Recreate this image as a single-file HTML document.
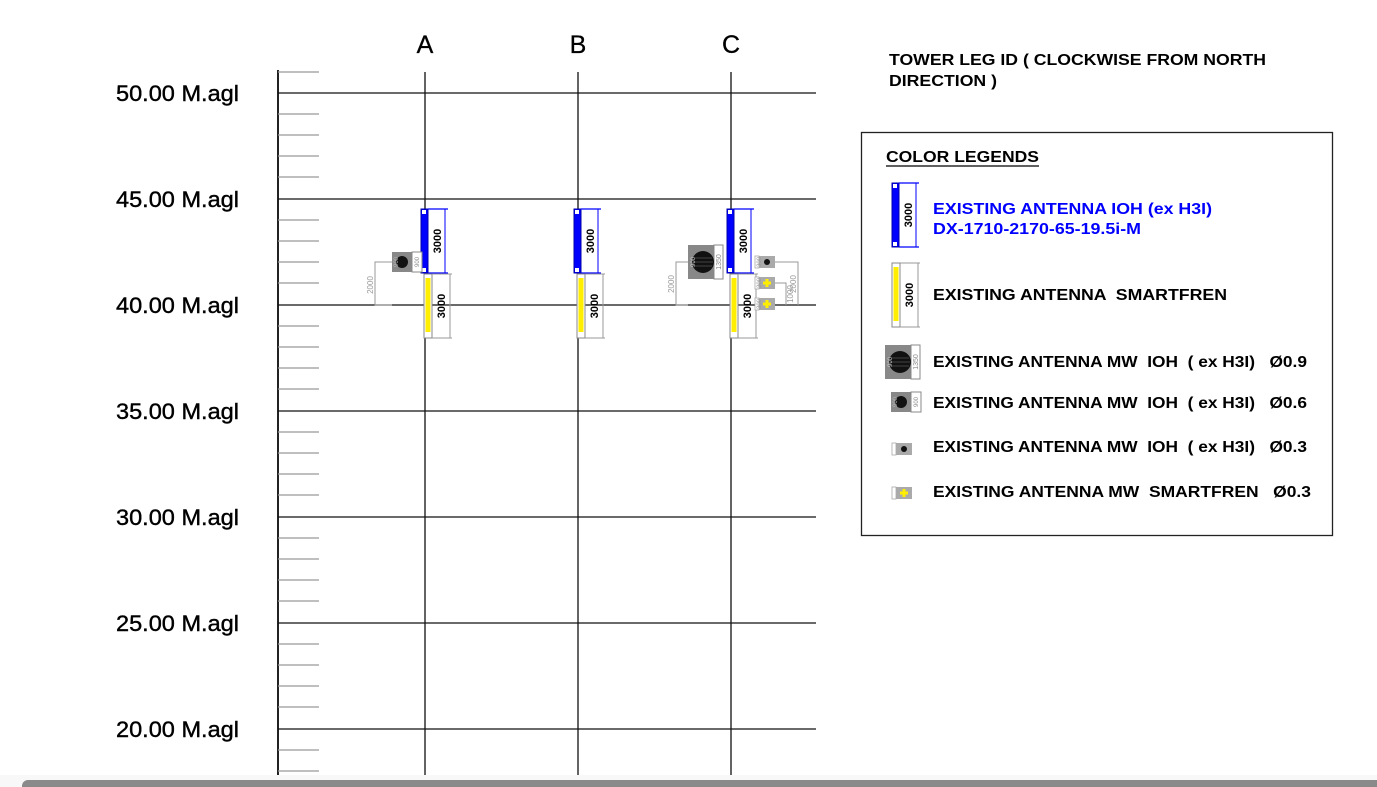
<!DOCTYPE html>
<html><head><meta charset="utf-8"><style>
html,body{margin:0;padding:0;background:#fff;width:1377px;height:787px;overflow:hidden}
svg{display:block}
text{font-family:"Liberation Sans",Arial,sans-serif;white-space:pre}
</style></head><body>
<svg width="1377" height="787" viewBox="0 0 1377 787" xmlns="http://www.w3.org/2000/svg" xml:space="preserve">
<defs>
 <g id="blue">
  <rect x="-4" y="209" width="7" height="64" fill="#0000ff" stroke="#0000aa" stroke-width="1"/>
  <rect x="-3" y="210" width="4" height="4" fill="#fff"/>
  <rect x="-3" y="268" width="4" height="4" fill="#fff"/>
  <line x1="3" y1="209" x2="23" y2="209" stroke="#0000ff" stroke-width="1.3"/>
  <line x1="3" y1="273" x2="23" y2="273" stroke="#0000ff" stroke-width="1.3"/>
  <line x1="20" y1="209" x2="20" y2="273" stroke="#0000ff" stroke-width="1"/>
  <text transform="translate(16,241) rotate(-90)" font-size="11" font-weight="bold" text-anchor="middle">3000</text>
 </g>
 <g id="yel">
  <rect x="-1" y="274" width="8" height="64" fill="#fff" stroke="#888" stroke-width="1"/>
  <rect x="0.5" y="278" width="5" height="54" fill="#ffee00"/>
  <line x1="7" y1="274" x2="27" y2="274" stroke="#999" stroke-width="1"/>
  <line x1="7" y1="338" x2="27" y2="338" stroke="#999" stroke-width="1"/>
  <line x1="25" y1="274" x2="25" y2="338" stroke="#999" stroke-width="1"/>
  <text transform="translate(20,306) rotate(-90)" font-size="11" font-weight="bold" text-anchor="middle">3000</text>
 </g>
 <g id="mw6">
  <rect x="-9" y="-10" width="20" height="20" fill="#888"/>
  <rect x="11" y="-10" width="10" height="20" fill="#fff" stroke="#888"/>
  <circle cx="1" cy="0" r="6" fill="#111"/>
  <text transform="translate(-3,0) rotate(-90)" font-size="6" fill="#bbb" text-anchor="middle">900</text>
  <text transform="translate(18,0) rotate(-90)" font-size="6" fill="#888" text-anchor="middle">900</text>
 </g>
 <g id="mw9">
  <rect x="-17" y="-17" width="26" height="34" fill="#888"/>
  <rect x="9" y="-17" width="9" height="34" fill="#fff" stroke="#888"/>
  <circle cx="-2" cy="0" r="11" fill="#111"/>
  <path d="M-11,-4 h18 M-12,0 h20 M-11,4 h18" stroke="#555" stroke-width="0.8"/>
  <text transform="translate(-10,0) rotate(-90)" font-size="6" fill="#ccc" text-anchor="middle">900</text>
  <text transform="translate(16,0) rotate(-90)" font-size="7" fill="#888" text-anchor="middle">1350</text>
 </g>
 <g id="mw3">
  <rect x="-7" y="-6" width="16" height="12" fill="#aaa"/>
  <rect x="-11" y="-6" width="4" height="12" fill="#fff" stroke="#aaa" stroke-width="0.8"/>
  <circle cx="1" cy="0" r="3" fill="#111"/>
 </g>
 <g id="mw3y">
  <rect x="-7" y="-6" width="16" height="12" fill="#aaa"/>
  <rect x="-11" y="-6" width="4" height="12" fill="#fff" stroke="#aaa" stroke-width="0.8"/>
  <path d="M1,-4 v8 M-3,0 h8" stroke="#ffee00" stroke-width="3"/>
 </g>
</defs>

<line x1="278" y1="70" x2="278" y2="775" stroke="#222" stroke-width="2"/>
<g stroke="#999" stroke-width="1.3">
 <line x1="278" y1="72" x2="319" y2="72"/>
 <line x1="278" y1="114" x2="319" y2="114"/><line x1="278" y1="135" x2="319" y2="135"/><line x1="278" y1="156" x2="319" y2="156"/><line x1="278" y1="177" x2="319" y2="177"/>
 <line x1="278" y1="220" x2="319" y2="220"/><line x1="278" y1="241" x2="319" y2="241"/><line x1="278" y1="262" x2="319" y2="262"/><line x1="278" y1="283" x2="319" y2="283"/>
 <line x1="278" y1="326" x2="319" y2="326"/><line x1="278" y1="347" x2="319" y2="347"/><line x1="278" y1="368" x2="319" y2="368"/><line x1="278" y1="389" x2="319" y2="389"/>
 <line x1="278" y1="432" x2="319" y2="432"/><line x1="278" y1="453" x2="319" y2="453"/><line x1="278" y1="474" x2="319" y2="474"/><line x1="278" y1="495" x2="319" y2="495"/>
 <line x1="278" y1="538" x2="319" y2="538"/><line x1="278" y1="559" x2="319" y2="559"/><line x1="278" y1="580" x2="319" y2="580"/><line x1="278" y1="601" x2="319" y2="601"/>
 <line x1="278" y1="644" x2="319" y2="644"/><line x1="278" y1="665" x2="319" y2="665"/><line x1="278" y1="686" x2="319" y2="686"/><line x1="278" y1="707" x2="319" y2="707"/>
 <line x1="278" y1="750" x2="319" y2="750"/><line x1="278" y1="771" x2="319" y2="771"/>
</g>
<g stroke="#111" stroke-width="1.3">
 <line x1="278" y1="93" x2="816" y2="93"/><line x1="278" y1="199" x2="816" y2="199"/><line x1="278" y1="305" x2="816" y2="305"/>
 <line x1="278" y1="411" x2="816" y2="411"/><line x1="278" y1="517" x2="816" y2="517"/><line x1="278" y1="623" x2="816" y2="623"/><line x1="278" y1="729" x2="816" y2="729"/>
 <line x1="425" y1="72" x2="425" y2="775"/><line x1="578" y1="72" x2="578" y2="775"/><line x1="731" y1="72" x2="731" y2="775"/>
</g>
<g font-size="22" fill="#000" stroke="#000" stroke-width="0.4">
 <text x="116" y="101" textLength="123" lengthAdjust="spacingAndGlyphs">50.00 M.agl</text>
 <text x="116" y="207" textLength="123" lengthAdjust="spacingAndGlyphs">45.00 M.agl</text>
 <text x="116" y="313" textLength="123" lengthAdjust="spacingAndGlyphs">40.00 M.agl</text>
 <text x="116" y="419" textLength="123" lengthAdjust="spacingAndGlyphs">35.00 M.agl</text>
 <text x="116" y="525" textLength="123" lengthAdjust="spacingAndGlyphs">30.00 M.agl</text>
 <text x="116" y="631" textLength="123" lengthAdjust="spacingAndGlyphs">25.00 M.agl</text>
 <text x="116" y="737" textLength="123" lengthAdjust="spacingAndGlyphs">20.00 M.agl</text>
</g>
<g font-size="25" text-anchor="middle" stroke="#000" stroke-width="0.3"><text x="425" y="53">A</text><text x="578" y="53">B</text><text x="731" y="53">C</text></g>

<use href="#blue" x="425"/><use href="#yel" x="425"/>
<use href="#blue" x="578"/><use href="#yel" x="578"/>
<use href="#blue" x="731"/><use href="#yel" x="731"/>

<use href="#mw6" x="401" y="262"/>
<path d="M392,262 H375 V305 H392" fill="none" stroke="#999"/>
<text transform="translate(373,285) rotate(-90)" font-size="8" fill="#999" text-anchor="middle">2000</text>
<use href="#mw9" x="705" y="262"/>
<path d="M688,262 H676 V305 H688" fill="none" stroke="#999"/>
<text transform="translate(674,284) rotate(-90)" font-size="8" fill="#999" text-anchor="middle">2000</text>
<use href="#mw3" x="766" y="262"/>
<use href="#mw3y" x="766" y="283"/>
<use href="#mw3y" x="766" y="304"/>
<text transform="translate(761,262) rotate(-90)" font-size="6" fill="#999" text-anchor="middle">300</text>
<text transform="translate(761,283) rotate(-90)" font-size="6" fill="#999" text-anchor="middle">300</text>
<text transform="translate(761,304) rotate(-90)" font-size="6" fill="#999" text-anchor="middle">300</text>
<path d="M775,262 H798 V305 M775,283 H786 V305" fill="none" stroke="#999"/>
<text transform="translate(796,284) rotate(-90)" font-size="8" fill="#999" text-anchor="middle">2000</text>
<text transform="translate(793,294) rotate(-90)" font-size="8" fill="#999" text-anchor="middle">1000</text>

<text x="889" y="65" font-size="16" font-weight="bold" textLength="377" lengthAdjust="spacingAndGlyphs">TOWER LEG ID ( CLOCKWISE FROM NORTH</text>
<text x="889" y="86" font-size="16" font-weight="bold" textLength="108" lengthAdjust="spacingAndGlyphs">DIRECTION )</text>

<rect x="861.5" y="132.5" width="471" height="403" fill="none" stroke="#222" stroke-width="1.3"/>
<text x="886" y="162" font-size="16" font-weight="bold" textLength="153" lengthAdjust="spacingAndGlyphs">COLOR LEGENDS</text>
<line x1="886" y1="166" x2="1039" y2="166" stroke="#000" stroke-width="1.3"/>

<g transform="translate(896,-26)"><use href="#blue"/></g>
<text x="933" y="214" font-size="16" font-weight="bold" fill="#0000ff" textLength="279" lengthAdjust="spacingAndGlyphs">EXISTING ANTENNA IOH (ex H3I)</text>
<text x="933" y="234" font-size="16" font-weight="bold" fill="#0000ff" textLength="208" lengthAdjust="spacingAndGlyphs">DX-1710-2170-65-19.5i-M</text>
<g transform="translate(893,-11)"><use href="#yel"/></g>
<text x="933" y="300" font-size="16" font-weight="bold" textLength="294" lengthAdjust="spacingAndGlyphs">EXISTING ANTENNA  SMARTFREN</text>

<use href="#mw9" x="902" y="362"/>
<use href="#mw6" x="900" y="402"/>
<use href="#mw3" x="903" y="449"/>
<use href="#mw3y" x="903" y="493"/>
<g font-size="16" font-weight="bold">
<text x="933" y="367" textLength="374" lengthAdjust="spacingAndGlyphs">EXISTING ANTENNA MW  IOH  ( ex H3I)   Ø0.9</text>
<text x="933" y="408" textLength="374" lengthAdjust="spacingAndGlyphs">EXISTING ANTENNA MW  IOH  ( ex H3I)   Ø0.6</text>
<text x="933" y="452" textLength="374" lengthAdjust="spacingAndGlyphs">EXISTING ANTENNA MW  IOH  ( ex H3I)   Ø0.3</text>
<text x="933" y="497" textLength="378" lengthAdjust="spacingAndGlyphs">EXISTING ANTENNA MW  SMARTFREN   Ø0.3</text>
</g>

<rect x="0" y="775" width="1377" height="12" fill="#f8f8f8"/>
<rect x="22" y="780" width="1400" height="14" rx="6" fill="#8a8a8a"/>
</svg>
</body></html>
